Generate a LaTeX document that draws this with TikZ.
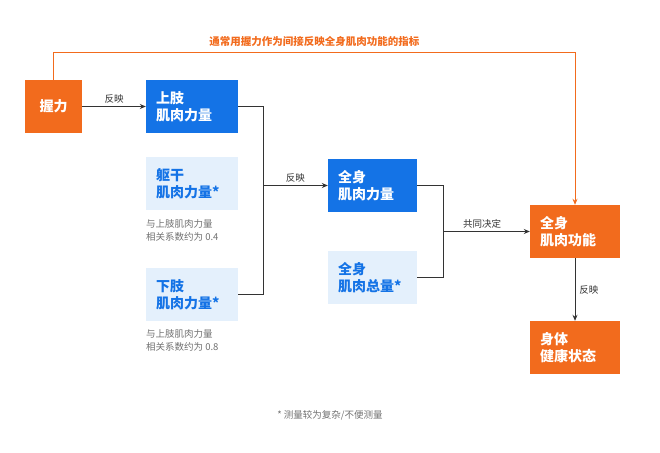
\documentclass[tikz,border=0pt]{standalone}
\usepackage{fontspec}
\setmainfont{Noto Sans CJK SC}
\newfontfamily\cjkb[BoldFont={Noto Sans CJK SC Bold}]{Noto Sans CJK SC}
\usetikzlibrary{arrows.meta}
\definecolor{org}{HTML}{F26B1D}
\definecolor{blu}{HTML}{1473E6}
\definecolor{lbl}{HTML}{E4F0FC}
\definecolor{gry}{HTML}{707070}
\definecolor{ln}{HTML}{333333}
\begin{document}
\begin{tikzpicture}[x=1pt,y=-1pt,
 box/.style={minimum width=#1,minimum height=53,inner sep=0,text width=#1-20,align=left,font=\fontsize{14}{17}\selectfont\bfseries},
 obox/.style={box=90,fill=org,text=white},
 bbox/.style={box=92,fill=blu,text=white},
 lbox/.style={box=92,fill=lbl,text=blu},
 note/.style={font=\fontsize{9.5}{13}\selectfont,text=gry,align=left,anchor=north west,inner sep=0},
 lab/.style={font=\fontsize{9.5}{12}\selectfont,text=ln,inner sep=1},
 conn/.style={draw=ln,line width=0.8},
 arr/.style={conn,-{Stealth[length=6,width=5]}}]
\useasboundingbox (0,0) rectangle (660,452);
\node[obox,box=57,text width=40,align=center] (grip) at (53.5,106.5) {握力};
\node[bbox] (up) at (192,106.5) {上肢\\肌肉力量};
\node[lbox] (tr) at (192,183.5) {躯干\\肌肉力量*};
\node[note] (n1) at (146,219) {与上肢肌肉力量\\相关系数约为 0.4};
\node[lbox,minimum height=53] (lo) at (192,294.5) {下肢\\肌肉力量*};
\node[note] (n2) at (146,329) {与上肢肌肉力量\\相关系数约为 0.8};
\node[bbox,box=89] (ws) at (372.5,185.5) {全身\\肌肉力量};
\node[lbox,box=89] (wm) at (372.5,277.5) {全身\\肌肉总量*};
\node[obox] (wf) at (575,231.5) {全身\\肌肉功能};
\node[obox] (hs) at (575,347.5) {身体\\健康状态};
\coordinate (b1) at (263,106.5); \coordinate (b2) at (263,294.5); \coordinate (b3) at (263,185.5);
\coordinate (c1) at (443,185.5); \coordinate (c2) at (443,277.5); \coordinate (c3) at (443,231.5);
\draw[arr] (grip.east) -- node[lab,above=2] {反映} (up.west);
\draw[conn] (up.east) -- (b1) -- (b2) -- (lo.east);
\draw[arr] (b3) -- node[lab,above=2] {反映} (ws.west);
\draw[conn] (ws.east) -- (c1) -- (c2) -- (wm.east);
\draw[arr] (c3) -- node[lab,above=2,pos=0.45] {共同决定} (wf.west);
\draw[arr] (wf.south) -- node[lab,right=3] {反映} (hs.north);
\coordinate (t1) at (53.5,52); \coordinate (t2) at (575,52);
\draw[draw=org,line width=0.9,-{Stealth[length=6,width=5]}] (grip.north) -- (t1) -- node[above=2,font=\fontsize{10.5}{12}\selectfont\bfseries,text=org] {通常用握力作为间接反映全身肌肉功能的指标} (t2) -- (wf.north);
\node[font=\fontsize{9.5}{12}\selectfont,text=gry] (fn) at (330,415) {* 测量较为复杂/不便测量};
\end{tikzpicture}
\end{document}
